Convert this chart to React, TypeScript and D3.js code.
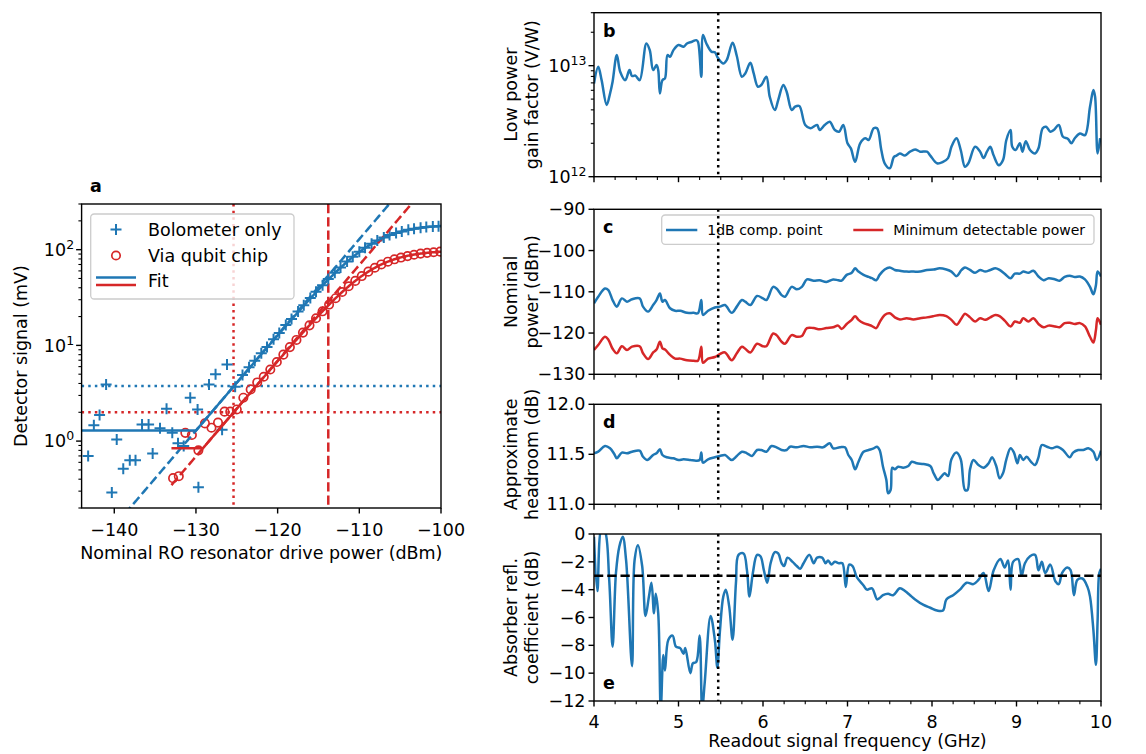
import React from 'react';
import * as d3 from 'd3';

// ---------------- Panel a data ----------------
const bolometerPower = [
  -143.2, -142.5, -141.8, -141.0, -140.3, -139.7, -138.9, -138.1, -137.4, -136.6,
  -135.8, -135.3, -134.4, -133.6, -132.9, -132.2, -131.5, -130.7, -129.8, -129.7,
  -128.4, -127.6, -126.8, -126.2, -125.2, -124.3, -123.5, -122.8, -122.0, -121.3,
  -120.5, -119.8, -119.0, -118.3, -117.5, -116.8, -116.0, -115.3, -114.5, -113.8,
  -113.0, -112.3, -111.5, -110.8, -110.0, -109.3, -108.5, -107.8, -107.0, -106.3,
  -105.5, -104.8, -104.0, -103.3, -102.5, -101.8, -101.0, -100.3,
];
const bolometerSignal = [
  0.70, 1.46, 1.87, 3.9, 0.29, 1.04, 0.515, 0.63, 0.63, 1.49,
  1.49, 0.74, 1.36, 2.18, 1.22, 0.95, 0.89, 2.84, 2.14, 0.33,
  3.9, 5.0, 1.31, 6.3, 3.7, 4.9, 5.9, 6.9, 8.3, 9.6,
  11.6, 13.5, 16.3, 18.9, 22.6, 26.2, 31.3, 36.4, 42.5, 49.3,
  57.5, 65.3, 75.2, 84.5, 95.0, 104.8, 115.5, 124.5, 134.0, 142.0,
  149.5, 155.0, 161.0, 165.5, 169.8, 172.0, 174.6, 176.0,
];
const qubitPower = [
  -132.8, -132.1, -131.3, -130.5, -129.7, -128.9, -128.1, -127.3, -126.5, -125.8,
  -125.0, -124.2, -123.3, -122.5, -121.7, -120.9, -120.1, -119.3, -118.5, -117.7,
  -116.9, -116.1, -115.3, -114.5, -113.7, -112.9, -112.1, -111.3, -110.5, -109.7,
  -108.9, -108.1, -107.3, -106.5, -105.7, -104.9, -104.1, -103.3, -102.5, -101.7,
  -100.9, -100.1,
];
const qubitSignal = [
  0.41, 0.43, 1.22, 1.16, 0.80, 1.53, 1.38, 1.56, 2.03, 2.03,
  2.14, 2.84, 3.47, 4.1, 4.7, 5.6, 6.7, 8.0, 9.6, 11.4,
  13.6, 16.2, 19.2, 22.7, 26.7, 31.1, 36.1, 41.5, 47.2, 53.0,
  58.9, 64.7, 70.1, 74.9, 79.3, 82.7, 85.7, 88.5, 91.0, 92.6,
  94.0, 95.3,
];
// fit parameters (floor, linear gain in log10, saturation level, start power)
const fitBolometer = { floor: 1.29, logGain: 13.11, saturation: 183, start: -144 };
const fitQubit = { floor: 0.84, logGain: 12.84, saturation: 98.6, start: -133 };
const thresholdBolometer = 3.76;
const thresholdQubit = 2.0;
const minDetectPower = -125.4;
const compressionPower = -113.8;
const powerTicks = [-140, -130, -120, -110, -100];
const signalDecades = [1, 10, 100];

// ---------------- Panel b ----------------
const gainFreq = [
  4.00, 4.05, 4.09, 4.15, 4.19, 4.22, 4.27, 4.31, 4.37, 4.42,
  4.45, 4.49, 4.54, 4.62, 4.66, 4.70, 4.74, 4.76, 4.78, 4.81,
  4.84, 4.87, 4.90, 4.94, 5.00, 5.06, 5.10, 5.16, 5.21, 5.23,
  5.27, 5.29, 5.33, 5.39, 5.43, 5.47, 5.53, 5.57, 5.64, 5.69,
  5.75, 5.79, 5.85, 5.89, 5.94, 5.98, 6.04, 6.08, 6.14, 6.18,
  6.24, 6.28, 6.34, 6.38, 6.43, 6.50, 6.56, 6.64, 6.67, 6.73,
  6.79, 6.85, 6.90, 6.95, 7.00, 7.04, 7.09, 7.15, 7.21, 7.25,
  7.31, 7.35, 7.40, 7.44, 7.50, 7.55, 7.58, 7.62, 7.68, 7.74,
  7.80, 7.86, 7.94, 7.98, 8.06, 8.13, 8.19, 8.23, 8.29, 8.34,
  8.39, 8.43, 8.51, 8.57, 8.61, 8.65, 8.69, 8.73, 8.79, 8.84,
  8.88, 8.93, 8.95, 8.99, 9.04, 9.07, 9.11, 9.16, 9.22, 9.26,
  9.31, 9.35, 9.40, 9.44, 9.50, 9.55, 9.61, 9.65, 9.69, 9.75,
  9.81, 9.87, 9.91, 9.93, 9.96, 9.99,
];
// in units of 1e12 V/W
const gainValue = [
  6.92, 9.77, 7.41, 4.43, 5.62, 7.18, 12.47, 8.83, 7.41, 9.12,
  8.07, 8.13, 7.41, 15.85, 13.80, 9.12, 10.14, 9.12, 5.62, 7.41,
  7.69, 12.47, 12.02, 13.80, 15.35, 14.79, 15.85, 16.44, 16.98, 16.44,
  7.94, 18.92, 15.85, 13.37, 13.18, 11.64, 10.47, 11.22, 16.11, 12.22,
  7.94, 8.51, 10.64, 8.51, 6.46, 6.70, 7.94, 5.25, 3.98, 4.90,
  6.70, 5.83, 3.98, 4.27, 4.33, 2.92, 2.73, 2.92, 2.63, 2.92,
  3.13, 2.63, 2.54, 2.92, 2.00, 1.80, 1.36, 2.00, 2.22, 2.14,
  2.73, 2.73, 1.74, 1.32, 1.19, 1.51, 1.55, 1.62, 1.55, 1.68,
  1.76, 1.68, 1.68, 1.55, 1.32, 1.36, 1.47, 1.86, 2.22, 1.74,
  1.23, 1.32, 1.86, 1.68, 1.47, 1.68, 1.86, 1.55, 1.27, 1.41,
  2.14, 2.63, 1.86, 1.74, 2.00, 1.68, 2.09, 1.74, 1.62, 1.80,
  2.73, 2.82, 2.54, 2.63, 2.92, 2.29, 2.19, 2.00, 2.22, 2.45,
  2.37, 4.27, 6.03, 5.25, 1.62, 2.22,
];
const gainUnit = 1e12;

// ---------------- Panel c ----------------
const powerFreq = [
  4.00, 4.05, 4.13, 4.17, 4.22, 4.27, 4.33, 4.39, 4.45, 4.54,
  4.58, 4.64, 4.70, 4.74, 4.78, 4.81, 4.84, 4.90, 4.96, 5.02,
  5.10, 5.18, 5.23, 5.27, 5.29, 5.35, 5.43, 5.49, 5.55, 5.63,
  5.69, 5.75, 5.79, 5.85, 5.93, 6.00, 6.04, 6.12, 6.16, 6.22,
  6.26, 6.34, 6.40, 6.46, 6.52, 6.60, 6.67, 6.75, 6.83, 6.89,
  6.93, 6.99, 7.05, 7.09, 7.13, 7.19, 7.25, 7.29, 7.34, 7.38,
  7.44, 7.50, 7.56, 7.62, 7.70, 7.78, 7.86, 7.94, 8.02, 8.09,
  8.17, 8.23, 8.29, 8.35, 8.39, 8.45, 8.51, 8.57, 8.63, 8.69,
  8.75, 8.80, 8.86, 8.93, 8.98, 9.04, 9.08, 9.14, 9.20, 9.26,
  9.32, 9.38, 9.46, 9.51, 9.57, 9.63, 9.69, 9.75, 9.81, 9.87,
  9.91, 9.94, 9.96, 10.0,
];
const compressionPoint = [
  -112.8, -111.2, -109.2, -109.6, -112.0, -113.6, -111.6, -112.4, -111.8, -111.6,
  -113.6, -114.8, -113.2, -112.0, -110.4, -112.4, -112.0, -114.0, -114.6, -114.6,
  -115.1, -115.1, -115.2, -112.0, -115.6, -114.6, -113.8, -113.6, -113.2, -115.1,
  -113.6, -112.0, -112.4, -113.2, -111.0, -111.6, -112.0, -108.8, -109.2, -110.8,
  -111.2, -108.8, -109.4, -108.8, -107.0, -107.3, -107.2, -107.6, -107.0, -107.2,
  -107.3, -105.9, -105.4, -104.3, -105.1, -105.9, -106.4, -106.7, -107.2, -105.9,
  -104.6, -104.1, -104.7, -104.9, -105.1, -105.1, -105.1, -104.7, -104.6, -104.3,
  -104.6, -105.1, -106.2, -104.7, -104.1, -104.7, -105.4, -104.7, -105.1, -104.7,
  -104.3, -104.7, -105.6, -106.7, -105.6, -105.6, -105.1, -105.4, -104.9, -106.3,
  -107.2, -106.7, -107.0, -107.3, -106.4, -106.1, -106.4, -106.3, -107.0, -108.8,
  -110.6, -108.4, -105.1, -106.3,
];
const minDetectable = [
  -124.1, -122.9, -120.9, -121.6, -123.8, -124.9, -123.2, -124.1, -123.3, -123.2,
  -124.9, -126.3, -124.7, -124.0, -122.1, -123.7, -124.0, -125.3, -126.2, -126.2,
  -126.6, -126.7, -126.7, -123.3, -127.2, -126.2, -125.8, -125.1, -124.7, -126.6,
  -124.9, -123.3, -123.8, -124.7, -122.6, -123.2, -123.2, -120.1, -120.5, -122.1,
  -122.6, -120.5, -120.9, -120.7, -118.8, -118.8, -119.1, -118.8, -118.6, -118.2,
  -119.0, -117.8, -116.8, -115.9, -116.8, -117.6, -118.0, -118.3, -118.8, -117.4,
  -115.6, -115.2, -116.2, -116.7, -116.4, -116.7, -116.4, -116.2, -115.9, -115.6,
  -115.9, -116.8, -118.0, -116.4, -115.3, -116.2, -117.2, -116.4, -116.8, -116.2,
  -115.6, -115.9, -117.0, -118.4, -117.2, -117.5, -116.4, -117.2, -116.4, -117.8,
  -118.6, -118.2, -118.4, -118.6, -117.6, -117.5, -117.8, -117.6, -118.4, -120.9,
  -122.3, -119.3, -116.4, -118.0,
];
const powerTicksC = [-130, -120, -110, -100, -90];

// ---------------- Panel d ----------------
const headFreq = [
  4.00, 4.05, 4.13, 4.19, 4.24, 4.27, 4.33, 4.39, 4.45, 4.54,
  4.58, 4.63, 4.70, 4.74, 4.78, 4.81, 4.86, 4.94, 5.00, 5.06,
  5.14, 5.21, 5.25, 5.27, 5.29, 5.35, 5.43, 5.49, 5.55, 5.63,
  5.69, 5.75, 5.81, 5.87, 5.93, 5.98, 6.04, 6.10, 6.16, 6.22,
  6.28, 6.32, 6.40, 6.48, 6.56, 6.64, 6.71, 6.79, 6.83, 6.91,
  6.97, 7.01, 7.05, 7.09, 7.13, 7.19, 7.25, 7.31, 7.35, 7.38,
  7.42, 7.46, 7.48, 7.51, 7.53, 7.56, 7.60, 7.66, 7.72, 7.76,
  7.82, 7.90, 7.98, 8.02, 8.07, 8.11, 8.15, 8.19, 8.23, 8.29,
  8.34, 8.39, 8.42, 8.45, 8.49, 8.55, 8.61, 8.67, 8.71, 8.76,
  8.80, 8.84, 8.88, 8.93, 8.97, 9.01, 9.04, 9.08, 9.12, 9.17,
  9.22, 9.26, 9.30, 9.36, 9.42, 9.48, 9.55, 9.63, 9.67, 9.73,
  9.79, 9.85, 9.91, 9.95, 10.0,
];
const headroom = [
  11.51, 11.526, 11.583, 11.56, 11.503, 11.46, 11.517, 11.51, 11.526, 11.536,
  11.476, 11.443, 11.493, 11.51, 11.55, 11.493, 11.47, 11.46, 11.443, 11.45,
  11.443, 11.436, 11.443, 11.517, 11.416, 11.45, 11.47, 11.483, 11.493, 11.443,
  11.483, 11.526, 11.51, 11.483, 11.543, 11.543, 11.526, 11.583, 11.57, 11.543,
  11.543, 11.576, 11.57, 11.583, 11.57, 11.576, 11.57, 11.61, 11.56, 11.57,
  11.57, 11.493, 11.443, 11.35, 11.426, 11.526, 11.543, 11.56, 11.576, 11.543,
  11.376, 11.243, 11.11, 11.143, 11.366, 11.35, 11.376, 11.366, 11.383, 11.426,
  11.41, 11.403, 11.383, 11.31, 11.243, 11.276, 11.31, 11.283, 11.45, 11.517,
  11.45, 11.143, 11.143, 11.35, 11.443, 11.393, 11.366, 11.41, 11.47, 11.383,
  11.26, 11.31, 11.45, 11.56, 11.517, 11.41, 11.493, 11.443, 11.476, 11.426,
  11.393, 11.47, 11.593, 11.576, 11.56, 11.576, 11.543, 11.47, 11.517, 11.543,
  11.543, 11.56, 11.526, 11.443, 11.536,
];
const headTicks = [11.0, 11.5, 12.0];

// ---------------- Panel e ----------------
const reflFreq = [
  4.00, 4.04, 4.09, 4.13, 4.18, 4.22, 4.26, 4.30, 4.34, 4.38,
  4.45, 4.48, 4.52, 4.57, 4.61, 4.65, 4.68, 4.71, 4.73, 4.76,
  4.79, 4.82, 4.84, 4.88, 4.93, 4.97, 5.02, 5.06, 5.08, 5.14,
  5.17, 5.21, 5.25, 5.28, 5.31, 5.38, 5.43, 5.46, 5.49, 5.53,
  5.56, 5.60, 5.64, 5.68, 5.71, 5.77, 5.81, 5.84, 5.88, 5.93,
  5.97, 6.01, 6.05, 6.09, 6.14, 6.18, 6.22, 6.25, 6.29, 6.35,
  6.40, 6.44, 6.48, 6.55, 6.60, 6.64, 6.70, 6.74, 6.77, 6.81,
  6.85, 6.90, 6.94, 6.98, 7.02, 7.06, 7.11, 7.19, 7.23, 7.29,
  7.35, 7.38, 7.42, 7.48, 7.54, 7.62, 7.68, 7.74, 7.80, 7.90,
  7.98, 8.06, 8.13, 8.17, 8.25, 8.33, 8.41, 8.49, 8.55, 8.61,
  8.67, 8.73, 8.81, 8.86, 8.90, 8.93, 8.96, 9.02, 9.06, 9.10,
  9.16, 9.22, 9.26, 9.30, 9.34, 9.40, 9.46, 9.50, 9.54, 9.60,
  9.64, 9.68, 9.72, 9.78, 9.84, 9.87, 9.91, 9.94, 9.96, 9.98,
  10.0,
];
const reflection = [
  -0.2, -4.1, 0.4, 0.2, -3.3, -8.1, -2.8, -0.9, -0.2, -1.9,
  -9.5, -1.9, -0.8, -2.3, -5.9, -4.5, -3.5, -5.7, -4.3, -5.7,
  -12.6, -8.7, -9.8, -7.6, -7.3, -8.1, -8.2, -8.6, -8.2, -10.0,
  -9.3, -9.2, -7.3, -12.6, -10.7, -5.9, -7.6, -9.6, -7.0, -4.5,
  -4.0, -5.2, -7.6, -3.5, -1.5, -1.4, -2.6, -4.5, -2.8, -1.5,
  -1.6, -2.6, -3.5, -2.1, -1.3, -1.4, -2.1, -2.3, -1.7, -2.0,
  -2.3, -2.5, -2.1, -1.5, -2.1, -1.7, -1.7, -2.1, -1.9, -2.2,
  -2.0, -2.1, -2.1, -3.8, -2.2, -2.3, -3.1, -3.7, -4.0, -3.9,
  -4.7, -4.6, -4.4, -4.3, -4.4, -3.9, -4.1, -4.4, -4.7, -5.1,
  -5.3, -5.5, -5.5, -4.7, -4.4, -4.0, -3.5, -3.6, -3.3, -2.8,
  -4.1, -2.6, -1.8, -2.4, -1.9, -4.0, -2.0, -1.8, -3.0, -2.1,
  -1.6, -1.5, -2.6, -2.0, -2.8, -2.2, -3.4, -3.6, -2.8, -2.4,
  -2.6, -4.4, -3.3, -3.2, -3.8, -4.5, -6.9, -9.4, -6.2, -2.8,
  -2.5,
];
const reflThreshold = -3;
const reflTicks = [-12, -10, -8, -6, -4, -2, 0];
const freqTicks = [4, 5, 6, 7, 8, 9, 10];
const operatingFreq = 5.47;

// ---------------- styling ----------------
const FONT = "'DejaVu Sans', sans-serif";
const BLUE = '#1f77b4';
const RED = '#d62728';
const FS = 17.5;
const LW = 2.5;
const SPINE = 1.4;
const TICK = 5.5;
const MINOR = 3.2;
const DOT = `${LW},${LW * 1.65}`;
const DASH = `${LW * 3.7},${LW * 1.6}`;

const A = { left: 81.6, right: 441, top: 204, bottom: 508 };
const RX = { left: 594, right: 1101 };
const PB = { top: 12.7, bottom: 176.7 };
const PC = { top: 209.3, bottom: 374.3 };
const PD = { top: 404.3, bottom: 504.3 };
const PE = { top: 534, bottom: 701 };

const minus = (v: number) => String(v).replace('-', '\u2212');

function Frame({ l, r, t, b }: { l: number; r: number; t: number; b: number }) {
  return <rect x={l} y={t} width={r - l} height={b - t} fill="none" stroke="#000" strokeWidth={SPINE} />;
}

function Pow10({ x, y, exp }: { x: number; y: number; exp: number }) {
  return (
    <text x={x} y={y} textAnchor="end" fontSize={FS} dy="0.35em">
      10<tspan dy={-7} fontSize={12.5}>{minus(exp)}</tspan>
    </text>
  );
}

function FreqAxis({ xs, bottom, labels }: any) {
  const minor = d3.range(4, 10.001, 0.25).filter((v) => Math.abs(v - Math.round(v)) > 1e-6);
  return (
    <g>
      {minor.map((v) => (
        <line key={'m' + v} x1={xs(v)} x2={xs(v)} y1={bottom} y2={bottom + MINOR} stroke="#000" strokeWidth={1.1} />
      ))}
      {freqTicks.map((v) => (
        <g key={v}>
          <line x1={xs(v)} x2={xs(v)} y1={bottom} y2={bottom + TICK} stroke="#000" strokeWidth={SPINE} />
          {labels && (
            <text x={xs(v)} y={bottom + 27} textAnchor="middle" fontSize={FS}>
              {v}
            </text>
          )}
        </g>
      ))}
    </g>
  );
}

function YLabel2({ lines, yc }: { lines: string[]; yc: number }) {
  const xs = [511, 532];
  return (
    <g>
      {lines.map((s, i) => (
        <text key={i} transform={`translate(${xs[i]},${yc}) rotate(-90)`} textAnchor="middle" dy="0.35em" fontSize={FS}>
          {s}
        </text>
      ))}
    </g>
  );
}

function LinearYTicks({ ys, ticks, fmt }: any) {
  return (
    <g>
      {ticks.map((v: number) => (
        <g key={v}>
          <line x1={RX.left - TICK} x2={RX.left} y1={ys(v)} y2={ys(v)} stroke="#000" strokeWidth={SPINE} />
          <text x={RX.left - TICK - 3} y={ys(v)} dy="0.35em" textAnchor="end" fontSize={FS}>
            {fmt(v)}
          </text>
        </g>
      ))}
    </g>
  );
}

function PanelLetter({ x, y, s }: { x: number; y: number; s: string }) {
  return (
    <text x={x} y={y} fontSize={FS} fontWeight="bold">
      {s}
    </text>
  );
}

export default function App() {
  // ---------- panel a ----------
  const xa = d3.scaleLinear().domain([-144, -100]).range([A.left, A.right]);
  const ya = d3.scaleLog().domain([0.2, 300]).range([A.bottom, A.top]);
  const linear = (p: number, fit: any) => Math.pow(10, fit.logGain + p / 10);
  const saturated = (p: number, fit: any) => {
    const lin = linear(p, fit);
    return Math.max(fit.floor, lin / Math.pow(1 + Math.pow(lin / fit.saturation, 1.5), 2 / 3));
  };
  const fitGrid = (start: number) => d3.range(start, -99.95, 0.1);
  const fitSolid = (fit: any) =>
    d3.line<number>().x((p) => xa(p)).y((p) => ya(saturated(p, fit)))(fitGrid(fit.start)) || '';
  const fitDashed = (fit: any) =>
    d3.line<number>().x((p) => xa(p)).y((p) => ya(linear(p, fit)))(fitGrid(fit.start)) || '';

  const minorA: number[] = [];
  [0.1, 1, 10, 100].forEach((dec) => {
    for (let k = 2; k <= 9; k++) {
      const v = dec * k;
      if (v >= 0.2 && v <= 300) minorA.push(v);
    }
  });

  // ---------- right panels ----------
  const xs = d3.scaleLinear().domain([4, 10]).range([RX.left, RX.right]);
  const yb = d3.scaleLog().domain([1e12, 3e13]).range([PB.bottom, PB.top]);
  const yc = d3.scaleLinear().domain([-130, -90]).range([PC.bottom, PC.top]);
  const yd = d3.scaleLinear().domain([11, 12]).range([PD.bottom, PD.top]);
  const ye = d3.scaleLinear().domain([-12, 0]).range([PE.bottom, PE.top]);
  const curve = d3.curveCatmullRom.alpha(0.5);

  const traceB = d3.line<number>().curve(curve).x((_, i) => xs(gainFreq[i])).y((v) => yb(v * gainUnit))(gainValue) || '';
  const traceC1 = d3.line<number>().curve(curve).x((_, i) => xs(powerFreq[i])).y((v) => yc(v))(compressionPoint) || '';
  const traceC2 = d3.line<number>().curve(curve).x((_, i) => xs(powerFreq[i])).y((v) => yc(v))(minDetectable) || '';
  const traceD = d3.line<number>().curve(curve).x((_, i) => xs(headFreq[i])).y((v) => yd(v))(headroom) || '';
  const traceE = d3.line<number>().curve(curve).x((_, i) => xs(reflFreq[i])).y((v) => ye(v))(reflection) || '';

  const minorB: number[] = [];
  [1e12, 1e13].forEach((dec) => {
    for (let k = 2; k <= 9; k++) {
      const v = dec * k;
      if (v <= 3e13) minorB.push(v);
    }
  });

  const vline = (top: number, bottom: number) => (
    <line x1={xs(operatingFreq)} x2={xs(operatingFreq)} y1={top} y2={bottom} stroke="#000" strokeWidth={LW} strokeDasharray={DOT} />
  );

  const plusPath = 'M-5.5,0H5.5M0,-5.5V5.5';

  return (
    <svg
      width={1146}
      height={754}
      style={{ position: 'absolute', left: 0, top: 0, background: '#fff' }}
      fontFamily={FONT}
    >
      <defs>
        <clipPath id="clipA">
          <rect x={A.left} y={A.top} width={A.right - A.left} height={A.bottom - A.top} />
        </clipPath>
        <clipPath id="clipB">
          <rect x={RX.left} y={PB.top} width={RX.right - RX.left} height={PB.bottom - PB.top} />
        </clipPath>
        <clipPath id="clipC">
          <rect x={RX.left} y={PC.top} width={RX.right - RX.left} height={PC.bottom - PC.top} />
        </clipPath>
        <clipPath id="clipD">
          <rect x={RX.left} y={PD.top} width={RX.right - RX.left} height={PD.bottom - PD.top} />
        </clipPath>
        <clipPath id="clipE">
          <rect x={RX.left} y={PE.top} width={RX.right - RX.left} height={PE.bottom - PE.top} />
        </clipPath>
      </defs>
      <rect x={0} y={0} width={1146} height={754} fill="#fff" />

      {/* ================= Panel a ================= */}
      <g clipPath="url(#clipA)">
        <line x1={A.left} x2={A.right} y1={ya(thresholdBolometer)} y2={ya(thresholdBolometer)} stroke={BLUE} strokeWidth={LW} strokeDasharray={DOT} />
        <line x1={A.left} x2={A.right} y1={ya(thresholdQubit)} y2={ya(thresholdQubit)} stroke={RED} strokeWidth={LW} strokeDasharray={DOT} />
        <line x1={xa(minDetectPower)} x2={xa(minDetectPower)} y1={A.top} y2={A.bottom} stroke={RED} strokeWidth={LW} strokeDasharray={DOT} />
        <line x1={xa(compressionPower)} x2={xa(compressionPower)} y1={A.top} y2={A.bottom} stroke={RED} strokeWidth={LW} strokeDasharray={DASH} />
        {bolometerPower.map((p, i) => (
          <path key={'b' + i} d={plusPath} transform={`translate(${xa(p)},${ya(bolometerSignal[i])})`} stroke={BLUE} strokeWidth={2} fill="none" />
        ))}
        {qubitPower.map((p, i) => (
          <circle key={'q' + i} cx={xa(p)} cy={ya(qubitSignal[i])} r={4.2} stroke={RED} strokeWidth={1.7} fill="none" />
        ))}
        <path d={fitDashed(fitBolometer)} stroke={BLUE} strokeWidth={LW} fill="none" strokeDasharray={DASH} />
        <path d={fitDashed(fitQubit)} stroke={RED} strokeWidth={LW} fill="none" strokeDasharray={DASH} />
        <path d={fitSolid(fitBolometer)} stroke={BLUE} strokeWidth={LW} fill="none" />
        <path d={fitSolid(fitQubit)} stroke={RED} strokeWidth={LW} fill="none" />
      </g>
      {/* legend a */}
      <g>
        <rect x={90.7} y={214} width={203.3} height={85} rx={3.5} fill="#fff" fillOpacity={0.8} stroke="#cccccc" strokeWidth={1.3} />
        <path d={plusPath} transform="translate(116,229.5)" stroke={BLUE} strokeWidth={2} fill="none" />
        <text x={148} y={229.5} dy="0.35em" fontSize={FS}>Bolometer only</text>
        <circle cx={116} cy={255.5} r={4.2} stroke={RED} strokeWidth={1.7} fill="none" />
        <text x={148} y={255.5} dy="0.35em" fontSize={FS}>Via qubit chip</text>
        <line x1={96} x2={136} y1={277.5} y2={277.5} stroke={BLUE} strokeWidth={LW} />
        <line x1={96} x2={136} y1={285} y2={285} stroke={RED} strokeWidth={LW} />
        <text x={148} y={281} dy="0.35em" fontSize={FS}>Fit</text>
      </g>
      <Frame l={A.left} r={A.right} t={A.top} b={A.bottom} />
      {powerTicks.map((v) => (
        <g key={v}>
          <line x1={xa(v)} x2={xa(v)} y1={A.bottom} y2={A.bottom + TICK} stroke="#000" strokeWidth={SPINE} />
          <text x={xa(v)} y={A.bottom + 28} textAnchor="middle" fontSize={FS}>
            {minus(v)}
          </text>
        </g>
      ))}
      {minorA.map((v) => (
        <line key={'ma' + v} x1={A.left - MINOR} x2={A.left} y1={ya(v)} y2={ya(v)} stroke="#000" strokeWidth={1.1} />
      ))}
      {signalDecades.map((v) => (
        <g key={'da' + v}>
          <line x1={A.left - TICK} x2={A.left} y1={ya(v)} y2={ya(v)} stroke="#000" strokeWidth={SPINE} />
          <Pow10 x={A.left - TICK - 2} y={ya(v)} exp={Math.round(Math.log10(v))} />
        </g>
      ))}
      <text x={(A.left + A.right) / 2} y={559} textAnchor="middle" fontSize={FS}>
        Nominal RO resonator drive power (dBm)
      </text>
      <text transform={`translate(21,${(A.top + A.bottom) / 2}) rotate(-90)`} textAnchor="middle" dy="0.35em" fontSize={FS}>
        Detector signal (mV)
      </text>
      <PanelLetter x={90} y={192} s="a" />

      {/* ================= Panel b ================= */}
      <g clipPath="url(#clipB)">
        <path d={traceB} stroke={BLUE} strokeWidth={LW} fill="none" strokeLinejoin="round" />
      </g>
      {vline(PB.top, PB.bottom)}
      <Frame l={RX.left} r={RX.right} t={PB.top} b={PB.bottom} />
      {minorB.map((v) => (
        <line key={'mb' + v} x1={RX.left - MINOR} x2={RX.left} y1={yb(v)} y2={yb(v)} stroke="#000" strokeWidth={1.1} />
      ))}
      {[1e12, 1e13].map((v) => (
        <g key={'db' + v}>
          <line x1={RX.left - TICK} x2={RX.left} y1={yb(v)} y2={yb(v)} stroke="#000" strokeWidth={SPINE} />
          <Pow10 x={RX.left - TICK - 2} y={yb(v)} exp={Math.round(Math.log10(v))} />
        </g>
      ))}
      <FreqAxis xs={xs} bottom={PB.bottom} labels={false} />
      <YLabel2 lines={['Low power', 'gain factor (V/W)']} yc={(PB.top + PB.bottom) / 2} />
      <PanelLetter x={603} y={37} s="b" />

      {/* ================= Panel c ================= */}
      <g clipPath="url(#clipC)">
        <path d={traceC1} stroke={BLUE} strokeWidth={LW} fill="none" strokeLinejoin="round" />
        <path d={traceC2} stroke={RED} strokeWidth={LW} fill="none" strokeLinejoin="round" />
      </g>
      <g>
        <rect x={661.7} y={215} width={432.3} height={29.3} rx={3.5} fill="#fff" fillOpacity={0.8} stroke="#cccccc" strokeWidth={1.3} />
        <line x1={666} x2={697.3} y1={230} y2={230} stroke={BLUE} strokeWidth={LW} />
        <text x={707.3} y={230} dy="0.35em" fontSize={14}>1dB comp. point</text>
        <line x1={853.3} x2={883.3} y1={230} y2={230} stroke={RED} strokeWidth={LW} />
        <text x={893.3} y={230} dy="0.35em" fontSize={14}>Minimum detectable power</text>
      </g>
      {vline(PC.top, PC.bottom)}
      <Frame l={RX.left} r={RX.right} t={PC.top} b={PC.bottom} />
      <LinearYTicks ys={yc} ticks={powerTicksC} fmt={(v: number) => minus(v)} />
      <FreqAxis xs={xs} bottom={PC.bottom} labels={false} />
      <YLabel2 lines={['Nominal', 'power (dBm)']} yc={(PC.top + PC.bottom) / 2} />
      <PanelLetter x={603} y={233} s="c" />

      {/* ================= Panel d ================= */}
      <g clipPath="url(#clipD)">
        <path d={traceD} stroke={BLUE} strokeWidth={LW} fill="none" strokeLinejoin="round" />
      </g>
      {vline(PD.top, PD.bottom)}
      <Frame l={RX.left} r={RX.right} t={PD.top} b={PD.bottom} />
      <LinearYTicks ys={yd} ticks={headTicks} fmt={(v: number) => v.toFixed(1)} />
      <FreqAxis xs={xs} bottom={PD.bottom} labels={false} />
      <YLabel2 lines={['Approximate', 'headroom (dB)']} yc={(PD.top + PD.bottom) / 2} />
      <PanelLetter x={603} y={428} s="d" />

      {/* ================= Panel e ================= */}
      <g clipPath="url(#clipE)">
        <path d={traceE} stroke={BLUE} strokeWidth={LW} fill="none" strokeLinejoin="round" />
        <line x1={RX.left} x2={RX.right} y1={ye(reflThreshold)} y2={ye(reflThreshold)} stroke="#000" strokeWidth={LW} strokeDasharray={DASH} />
      </g>
      {vline(PE.top, PE.bottom)}
      <Frame l={RX.left} r={RX.right} t={PE.top} b={PE.bottom} />
      <LinearYTicks ys={ye} ticks={reflTicks} fmt={(v: number) => minus(v)} />
      <FreqAxis xs={xs} bottom={PE.bottom} labels={true} />
      <YLabel2 lines={['Absorber refl.', 'coefficient (dB)']} yc={(PE.top + PE.bottom) / 2} />
      <PanelLetter x={603} y={689} s="e" />
      <text x={(RX.left + RX.right) / 2} y={747} textAnchor="middle" fontSize={FS}>
        Readout signal frequency (GHz)
      </text>
    </svg>
  );
}
